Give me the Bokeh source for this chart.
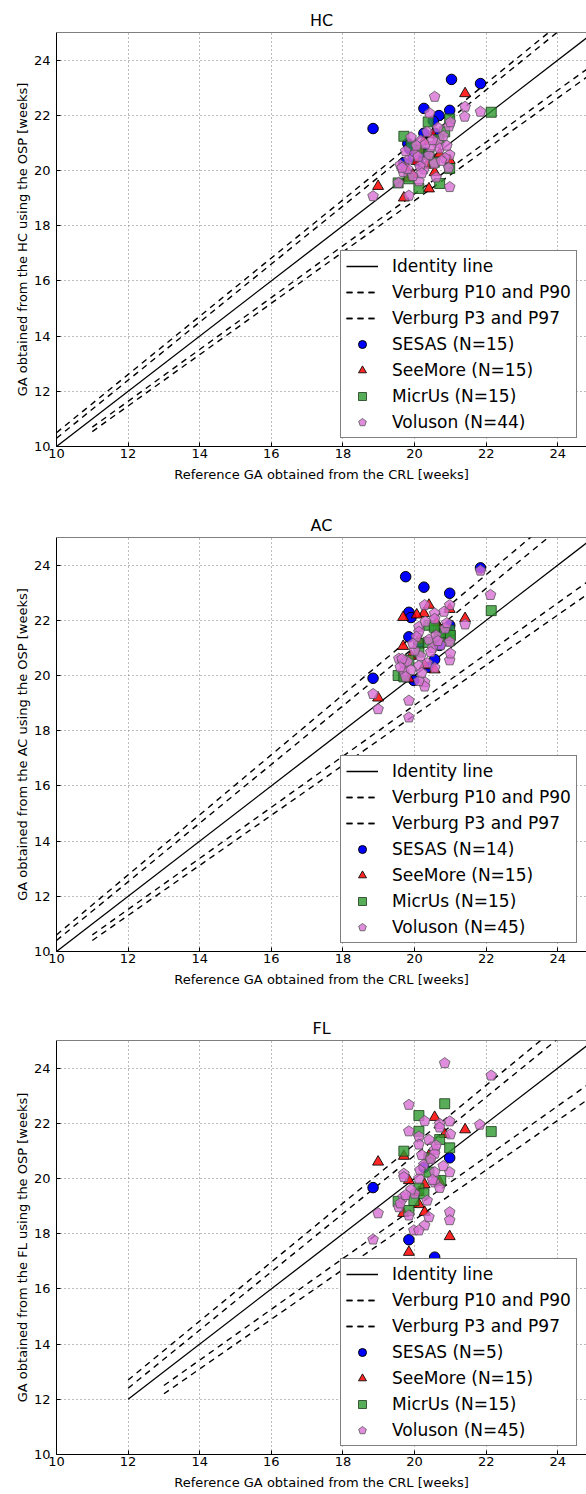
from bokeh.plotting import figure
from bokeh.models import Range1d, FixedTicker, Legend, LegendItem, Span
from bokeh.layouts import column
from bokeh.embed import file_html
from bokeh.resources import INLINE

FONT = "DejaVu Sans"
TICKS = [10, 12, 14, 16, 18, 20, 22, 24]
X_LABEL = "Reference GA obtained from the CRL [weeks]"

# ---------------- HC ----------------
hc_identity_x = [10, 26]
hc_identity_y = [10, 26]
hc_p90_x = [10, 26]
hc_p90_y = [10.3, 27.13]
hc_p97_x = [10, 26]
hc_p97_y = [10.5, 27.38]
hc_p10_x = [11, 26]
hc_p10_y = [10.7, 24.79]
hc_p3_x = [11, 26]
hc_p3_y = [10.54, 24.49]

hc_sesas_x = [18.84, 20.26, 20.98, 20.68, 20.26, 20.57, 20.52, 19.81, 19.96, 19.70, 21.03, 21.84, 20.10, 19.85, 20.30]
hc_sesas_y = [21.52, 22.25, 22.18, 21.99, 21.35, 21.35, 21.79, 20.98, 20.46, 20.28, 23.30, 23.15, 20.35, 20.80, 20.65]
hc_seemore_x = [21.41, 20.26, 20.98, 20.56, 20.40, 19.70, 18.98, 19.81, 20.06, 20.17, 19.95, 20.70, 19.75, 20.35, 20.50]
hc_seemore_y = [22.79, 21.06, 20.37, 19.93, 19.34, 19.01, 19.43, 19.73, 20.33, 20.76, 19.85, 20.60, 20.10, 20.20, 21.30]
hc_micrus_x = [22.14, 20.38, 20.98, 20.84, 19.70, 20.68, 20.98, 20.70, 20.12, 19.54, 20.40, 19.84, 20.55, 20.12, 19.90]
hc_micrus_y = [22.11, 21.76, 21.87, 21.40, 21.24, 21.12, 20.07, 19.53, 19.35, 19.55, 20.58, 19.70, 20.30, 20.75, 20.90]
hc_voluson_x = [20.56, 21.41, 21.84, 20.42, 20.96, 20.98, 20.95, 20.98, 18.84, 19.84, 19.68, 20.26, 20.12, 20.17, 20.63,
                20.70, 20.40, 20.00, 20.26, 19.84, 19.90, 20.80, 19.60, 19.75, 20.05, 20.35, 20.55, 20.85, 19.95, 20.15,
                20.45, 20.65, 19.80, 20.30, 20.90, 21.00, 19.65, 20.20, 20.50, 20.75, 19.55, 20.10, 20.60, 21.40]
hc_voluson_y = [22.67, 22.31, 22.13, 22.07, 21.60, 20.57, 20.10, 19.40, 19.07, 19.09, 19.95, 20.04, 19.61, 21.08, 21.00,
                20.80, 20.55, 20.60, 20.30, 20.40, 21.20, 21.25, 20.20, 20.70, 20.90, 21.40, 20.25, 20.45, 19.80, 20.15,
                20.85, 21.55, 20.05, 20.95, 20.90, 21.75, 20.10, 19.90, 21.10, 20.35, 19.55, 20.50, 19.75, 21.95]

# ---------------- AC ----------------
ac_identity_x = [10, 26]
ac_identity_y = [10, 26]
ac_p90_x = [10, 26]
ac_p90_y = [10.4, 27.41]
ac_p97_x = [10, 26]
ac_p97_y = [10.6, 28.01]
ac_p10_x = [11, 26]
ac_p10_y = [10.6, 24.48]
ac_p3_x = [11, 26]
ac_p3_y = [10.4, 24.01]

ac_sesas_x = [20.26, 20.98, 19.84, 19.84, 18.84, 20.56, 20.70, 20.98, 19.98, 19.75, 21.84, 20.12, 20.40, 19.90]
ac_sesas_y = [23.20, 22.98, 22.29, 21.40, 19.90, 20.58, 21.09, 21.82, 19.82, 23.58, 23.90, 21.16, 20.30, 22.10]
ac_seemore_x = [20.40, 20.26, 19.68, 20.98, 21.41, 19.68, 20.28, 20.56, 19.84, 18.98, 20.61, 20.12, 19.90, 20.06, 20.70]
ac_seemore_y = [22.55, 22.25, 22.11, 22.40, 22.07, 21.06, 20.36, 20.21, 19.88, 19.19, 21.91, 21.28, 20.70, 22.20, 21.70]
ac_micrus_x = [22.14, 20.40, 20.73, 20.98, 20.98, 20.12, 20.12, 19.54, 19.84, 20.68, 20.84, 20.38, 19.70, 20.55, 21.00]
ac_micrus_y = [22.35, 21.82, 21.64, 21.64, 21.26, 21.16, 20.85, 20.00, 20.55, 21.40, 21.55, 21.20, 19.95, 21.75, 21.45]
ac_voluson_x = [22.12, 20.98, 20.28, 20.82, 21.41, 20.12, 20.12, 20.56, 20.56, 20.98, 20.73, 20.40, 20.17, 19.56, 19.70,
                19.80, 20.98, 20.12, 20.28, 20.28, 20.12, 19.70, 18.84, 18.98, 19.84, 19.84, 20.56, 21.84, 20.50, 20.00,
                19.90, 20.60, 20.85, 20.30, 19.65, 20.05, 20.45, 20.90, 19.75, 20.20, 20.65, 19.95, 20.35, 21.00, 19.60]
ac_voluson_y = [22.92, 22.55, 22.55, 22.31, 21.85, 21.76, 21.58, 22.25, 22.05, 21.22, 21.10, 21.30, 20.70, 20.61, 20.45,
                20.50, 20.55, 20.35, 19.76, 19.60, 19.80, 20.15, 19.33, 18.78, 19.09, 18.48, 20.28, 23.80, 21.00, 20.90,
                20.20, 21.45, 21.70, 21.95, 20.60, 21.40, 20.85, 21.90, 19.95, 20.10, 21.25, 21.15, 20.45, 20.80, 20.30]

# ---------------- FL ----------------
fl_identity_x = [12, 26]
fl_identity_y = [12, 26]
fl_p90_x = [12, 26]
fl_p90_y = [12.4, 27.17]
fl_p97_x = [12, 26]
fl_p97_y = [12.7, 27.65]
fl_p10_x = [13, 26]
fl_p10_y = [12.5, 24.47]
fl_p3_x = [13, 26]
fl_p3_y = [12.2, 23.91]

fl_sesas_x = [18.84, 20.98, 19.84, 20.56, 20.26]
fl_sesas_y = [19.67, 20.75, 17.78, 17.15, 20.40]
fl_seemore_x = [20.56, 21.41, 18.98, 19.70, 20.40, 19.84, 20.28, 20.70, 20.12, 20.28, 19.68, 20.98, 19.84, 20.12, 20.84]
fl_seemore_y = [22.22, 21.77, 20.60, 20.81, 20.83, 19.93, 19.78, 19.87, 19.06, 18.78, 18.74, 17.90, 17.33, 19.50, 21.60]
fl_micrus_x = [20.84, 20.12, 20.12, 22.14, 20.70, 20.98, 19.70, 20.40, 20.40, 20.73, 20.12, 19.54, 19.98, 19.84, 20.26]
fl_micrus_y = [22.71, 22.28, 21.71, 21.70, 21.41, 21.11, 20.99, 20.75, 20.23, 19.93, 19.63, 19.17, 19.20, 18.84, 19.45]
fl_voluson_x = [20.84, 22.14, 19.84, 20.28, 20.98, 20.70, 21.82, 19.84, 20.70, 20.12, 20.12, 20.40, 20.56, 20.56, 19.70,
                19.70, 20.98, 20.56, 20.12, 20.56, 20.70, 18.98, 19.68, 19.56, 20.00, 19.84, 20.98, 20.98, 20.28, 19.98,
                20.12, 18.84, 20.26, 20.45, 19.90, 20.60, 20.35, 19.60, 20.80, 20.20, 19.75, 21.00, 20.50, 20.15, 20.40]
fl_voluson_y = [24.18, 23.73, 22.67, 22.08, 22.07, 21.98, 21.95, 21.71, 21.85, 21.52, 21.23, 21.40, 21.04, 20.90, 20.17,
                20.05, 20.23, 20.23, 20.00, 19.86, 19.66, 18.74, 19.32, 18.96, 19.45, 18.66, 18.78, 18.49, 18.30, 18.12,
                18.12, 17.79, 20.50, 20.70, 19.60, 21.20, 19.20, 19.10, 20.45, 20.85, 19.40, 21.60, 19.95, 20.30, 18.60]


def make_panel(title, ylabel, lines, groups, top, bottom):
    p = figure(frame_width=530, frame_height=414,
               min_border_left=56, min_border_right=0,
               min_border_top=top, min_border_bottom=bottom,
               x_range=Range1d(10, 24.8), y_range=Range1d(10, 25),
               output_backend="svg", toolbar_location=None, title=title)
    p.outline_line_color = None
    p.background_fill_color = "white"
    p.border_fill_color = "white"
    p.title.align = "center"
    p.title.text_font = FONT
    p.title.text_font_size = "16px"
    p.title.text_font_style = "normal"
    p.title.text_color = "black"
    p.title.standoff = 6

    for ax in (p.xaxis[0], p.yaxis[0]):
        ax.ticker = FixedTicker(ticks=TICKS)
        ax.major_tick_in = 4
        ax.major_tick_out = 0
        ax.minor_tick_line_color = None
        ax.axis_line_color = "black"
        ax.major_tick_line_color = "black"
        ax.major_label_text_font = FONT
        ax.major_label_text_font_size = "13px"
        ax.major_label_text_color = "black"
        ax.axis_label_text_font = FONT
        ax.axis_label_text_font_size = "13px"
        ax.axis_label_text_font_style = "normal"
        ax.axis_label_text_color = "black"
    p.xaxis.axis_label = X_LABEL
    p.xaxis.major_label_standoff = 2
    p.xaxis.axis_label_standoff = 6
    p.yaxis.axis_label = ylabel
    p.yaxis.major_label_standoff = 6
    p.yaxis.axis_label_standoff = 1

    for g in (p.xgrid[0], p.ygrid[0]):
        g.ticker = FixedTicker(ticks=TICKS)
        g.grid_line_color = "#7a7a7a"
        g.grid_line_dash = "1 3"
        g.grid_line_width = 1

    p.add_layout(Span(location=25, dimension="width", line_color="black", line_width=1))

    (ix, iy), p10p90, p3p97 = lines
    r_id = p.line(ix, iy, line_color="black", line_width=1.3)
    r_a = [p.line(x, y, line_color="black", line_width=1.4, line_dash="6 5") for x, y in p10p90]
    r_b = [p.line(x, y, line_color="black", line_width=1.4, line_dash="6 5") for x, y in p3p97]

    (sx, sy, sl), (tx, ty, tl), (mx, my, ml), (vx, vy, vl) = groups
    r_s = p.scatter(sx, sy, marker="circle", size=10.5, fill_color="#0000ff", line_color="black",
                    line_width=1)
    r_t = p.scatter(tx, ty, marker="triangle", size=11, fill_color="#ff0000", fill_alpha=0.85,
                    line_color="black", line_alpha=0.85, line_width=1)
    r_m = p.scatter(mx, my, marker="square", size=10, fill_color="#2e9a2e", fill_alpha=0.8,
                    line_color="#1a3a1a", line_alpha=0.8, line_width=1)
    r_v = p.ngon(x=vx, y=vy, radius=5.6, radius_units="screen", n=5, angle=0,
                 fill_color="#da70d6", fill_alpha=0.8, line_color="#555555", line_alpha=0.8,
                 line_width=1)

    legend = Legend(items=[
        LegendItem(label="Identity line", renderers=[r_id]),
        LegendItem(label="Verburg P10 and P90", renderers=r_a),
        LegendItem(label="Verburg P3 and P97", renderers=r_b),
        LegendItem(label=sl, renderers=[r_s]),
        LegendItem(label=tl, renderers=[r_t]),
        LegendItem(label=ml, renderers=[r_m]),
        LegendItem(label=vl, renderers=[r_v]),
    ], location=(284, 8))
    legend.margin = 0
    legend.padding = 5
    legend.spacing = 6
    legend.glyph_width = 32
    legend.glyph_height = 20
    legend.label_height = 20
    legend.label_standoff = 14
    legend.label_text_font = FONT
    legend.label_text_font_size = "17px"
    legend.label_text_color = "black"
    legend.border_line_color = "black"
    legend.border_line_width = 1
    legend.background_fill_alpha = 1
    p.add_layout(legend)
    return p


p1 = make_panel("HC", "GA obtained from the HC using the OSP [weeks]",
                ((hc_identity_x, hc_identity_y),
                 [(hc_p10_x, hc_p10_y), (hc_p90_x, hc_p90_y)],
                 [(hc_p3_x, hc_p3_y), (hc_p97_x, hc_p97_y)]),
                ((hc_sesas_x, hc_sesas_y, "SESAS (N=15)"),
                 (hc_seemore_x, hc_seemore_y, "SeeMore (N=15)"),
                 (hc_micrus_x, hc_micrus_y, "MicrUs (N=15)"),
                 (hc_voluson_x, hc_voluson_y, "Voluson (N=44)")),
                32, 54)
p2 = make_panel("AC", "GA obtained from the AC using the OSP [weeks]",
                ((ac_identity_x, ac_identity_y),
                 [(ac_p10_x, ac_p10_y), (ac_p90_x, ac_p90_y)],
                 [(ac_p3_x, ac_p3_y), (ac_p97_x, ac_p97_y)]),
                ((ac_sesas_x, ac_sesas_y, "SESAS (N=14)"),
                 (ac_seemore_x, ac_seemore_y, "SeeMore (N=15)"),
                 (ac_micrus_x, ac_micrus_y, "MicrUs (N=15)"),
                 (ac_voluson_x, ac_voluson_y, "Voluson (N=45)")),
                37, 49)
p3 = make_panel("FL", "GA obtained from the FL using the OSP [weeks]",
                ((fl_identity_x, fl_identity_y),
                 [(fl_p10_x, fl_p10_y), (fl_p90_x, fl_p90_y)],
                 [(fl_p3_x, fl_p3_y), (fl_p97_x, fl_p97_y)]),
                ((fl_sesas_x, fl_sesas_y, "SESAS (N=5)"),
                 (fl_seemore_x, fl_seemore_y, "SeeMore (N=15)"),
                 (fl_micrus_x, fl_micrus_y, "MicrUs (N=15)"),
                 (fl_voluson_x, fl_voluson_y, "Voluson (N=45)")),
                40, 39)

layout = column(p1, p2, p3, spacing=0)
open("out.html", "w").write(file_html(layout, INLINE))
